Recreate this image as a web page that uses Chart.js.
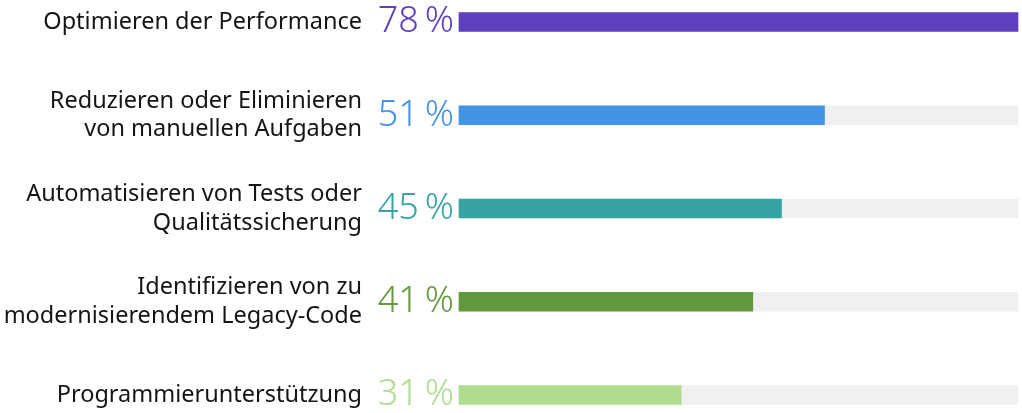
<!DOCTYPE html>
<html>
<head>
<meta charset="utf-8">
<script src="https://cdn.jsdelivr.net/npm/chart.js@4"></script>
<style>
  html, body { margin: 0; padding: 0; background: #ffffff; }
  #wrap { width: 1022px; height: 413px; position: relative; }
</style>
</head>
<body>
<div id="wrap"><canvas id="chart"></canvas></div>
<script>
const categories = [
    ['Optimieren der Performance'],
    ['Reduzieren oder Eliminieren', 'von manuellen Aufgaben'],
    ['Automatisieren von Tests oder', 'Qualitätssicherung'],
    ['Identifizieren von zu', 'modernisierendem Legacy-Code'],
    ['Programmierunterstützung']
];
const values = [78, 51, 45, 41, 31];
const barColors = ['#5e40be', '#4394e5', '#37a3a3', '#63993d', '#afdc8f'];
const trackMax = 78;
const trackValues = [78, 78, 78, 78, 78];

// big coloured percentages between the labels and the bars
const percentLabels = {
    id: 'percentLabels',
    afterDatasetsDraw(chart) {
        const ctx = chart.ctx;
        const meta = chart.getDatasetMeta(0);
        ctx.save();
        ctx.font = "300 36px 'Noto Sans', sans-serif";
        ctx.textAlign = 'right';
        ctx.textBaseline = 'middle';
        meta.data.forEach(function(bar, i) {
            ctx.fillStyle = barColors[i];
            ctx.fillText(values[i] + '\u202F%', chart.chartArea.left - 5, bar.y);
        });
        ctx.restore();
    }
};

new Chart(document.getElementById('chart').getContext('2d'), {
    type: 'bar',
    data: {
        labels: categories,
        datasets: [{
            data: values,
            backgroundColor: barColors,
            barThickness: 19,
            grouped: false,
            order: 0,
            clip: false
        }, {
            data: trackValues,
            backgroundColor: '#f0f0f0',
            barThickness: 19,
            grouped: false,
            order: 1,
            clip: false
        }]
    },
    options: {
        indexAxis: 'y',
        responsive: true,
        maintainAspectRatio: false,
        animation: false,
        layout: {
            padding: { top: 22, bottom: 18, right: 4, left: 0 }
        },
        plugins: {
            legend: { display: false },
            tooltip: { enabled: false }
        },
        scales: {
            x: {
                min: 0,
                max: trackMax,
                display: false
            },
            y: {
                offset: false,
                border: { display: false },
                grid: { display: false, drawTicks: false },
                afterFit: function(scale) {
                    scale.width = 459;
                    scale.paddingTop = 0;
                    scale.paddingBottom = 0;
                },
                ticks: {
                    padding: 97,
                    color: '#151515',
                    font: { family: "'Noto Sans', sans-serif", size: 23.5, weight: 400, lineHeight: 1.22 }
                }
            }
        }
    },
    plugins: [percentLabels]
});
</script>
</body>
</html>
